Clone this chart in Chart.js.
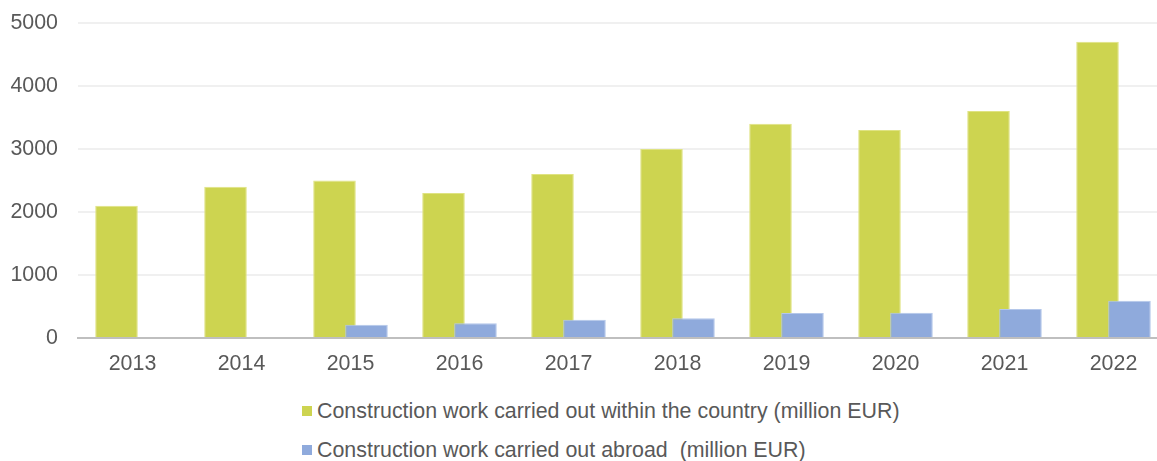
<!DOCTYPE html>
<html>
<head>
<meta charset="utf-8">
<script src="https://cdn.jsdelivr.net/npm/chart.js@4/dist/chart.umd.min.js"></script>
<style>
  html, body { margin: 0; padding: 0; background: #ffffff; overflow: hidden; width: 1157px; height: 461px; }
  #wrap { position: absolute; left: 0; top: -10px; width: 1168px; height: 390px; }
  #legend { position: absolute; left: 302px; top: 399px; font-family: "Liberation Sans", Arial, sans-serif; font-size: 21.4px; color: #595959; }
  .row { display: flex; align-items: center; height: 24px; line-height: 24px; margin-bottom: 15.3px; white-space: pre; }
  .sw { width: 10px; height: 10px; margin-right: 5px; flex: none; }
</style>
</head>
<body>
<div id="wrap"><canvas id="c"></canvas></div>
<div id="legend"></div>
<script>
const categories = ["2013","2014","2015","2016","2017","2018","2019","2020","2021","2022"];
const domesticValues = [2100, 2400, 2500, 2300, 2600, 3000, 3400, 3300, 3600, 4700];
const abroadValues = [null, null, 210, 235, 290, 315, 395, 400, 460, 590];
const seriesLabels = [
  "Construction work carried out within the country (million EUR)",
  "Construction work carried out abroad  (million EUR)"
];
const seriesColors = ["#cdd450", "#8faadc"];
const seriesBorders = ["#dfe382", "#b4c7ea"];
const yTicks = [0, 1000, 2000, 3000, 4000, 5000];

const drawInIndexOrder = {
  id: 'drawInIndexOrder',
  beforeDatasetsDraw(chart) {
    const metas = chart.getSortedVisibleDatasetMetas();
    const ctx = chart.ctx, a = chart.chartArea;
    ctx.save();
    ctx.beginPath();
    ctx.rect(a.left, a.top - 2, a.right - a.left, a.bottom - a.top + 2);
    ctx.clip();
    for (let i = 0; i < metas.length; i++) metas[i].controller.draw();
    ctx.restore();
    return false;
  }
};

const tickFont = { family: "'Liberation Sans', Arial, sans-serif", size: 21.4 };

const chart = new Chart(document.getElementById('c'), {
  type: 'bar',
  data: {
    labels: categories,
    datasets: [
      { label: seriesLabels[0], data: domesticValues, backgroundColor: seriesColors[0], borderColor: seriesBorders[0], borderWidth: 1, borderSkipped: 'bottom' },
      { label: seriesLabels[1], data: abroadValues, backgroundColor: seriesColors[1], borderColor: seriesBorders[1], borderWidth: 1, borderSkipped: 'bottom' }
    ]
  },
  options: {
    responsive: true,
    maintainAspectRatio: false,
    animation: false,
    datasets: { bar: { categoryPercentage: 0.587, barPercentage: 1.33 } },
    layout: { padding: { top: 13, right: 0, left: 0, bottom: 0 } },
    plugins: { legend: { display: false }, tooltip: { enabled: false } },
    scales: {
      x: {
        grid: { display: false, drawTicks: false },
        border: { display: true, color: '#bfbfbf', width: 2 },
        ticks: { color: '#595959', font: tickFont, padding: 13, maxRotation: 0 },
        afterFit(s) { s.height = 42; }
      },
      y: {
        min: 0, max: 5000,
        afterBuildTicks(s) { s.ticks = yTicks.map(v => ({ value: v })); },
        grid: { color: '#f0f0f0', lineWidth: 2, drawTicks: false },
        border: { display: false },
        ticks: { color: '#595959', font: tickFont, padding: 20, callback: v => String(v) },
        afterFit(s) { s.width = 78; }
      }
    }
  },
  plugins: [drawInIndexOrder]
});

const legend = document.getElementById('legend');
seriesLabels.forEach((lab, i) => {
  const row = document.createElement('div');
  row.className = 'row';
  const sw = document.createElement('span');
  sw.className = 'sw';
  sw.style.background = seriesColors[i];
  const t = document.createElement('span');
  t.textContent = lab;
  row.appendChild(sw); row.appendChild(t);
  legend.appendChild(row);
});
</script>
</body>
</html>
